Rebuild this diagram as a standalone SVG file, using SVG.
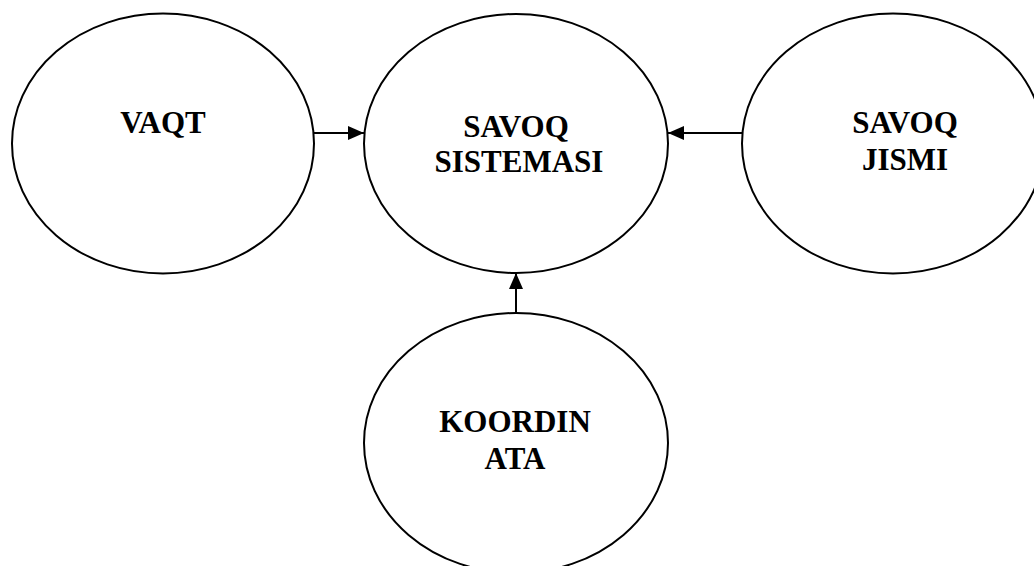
<svg xmlns="http://www.w3.org/2000/svg" width="1034" height="566" viewBox="0 0 1034 566">
<style>
.node{fill:#fff;stroke:#000;stroke-width:2}
.lbl{font-family:"Liberation Serif","Times New Roman",serif;font-weight:bold;font-size:31px;fill:#000;text-anchor:middle}
.conn{stroke:#000;stroke-width:2;fill:none}
</style>
<defs>
<marker id="ah" viewBox="0 0 16 14" refX="16" refY="7" markerWidth="16" markerHeight="14" markerUnits="userSpaceOnUse" orient="auto">
<path d="M0,0 L16,7 L0,14 Z" fill="#000"/>
</marker>
</defs>
<rect width="1034" height="566" fill="#fff"/>
<g id="vaqt">
<ellipse class="node" cx="163" cy="143.5" rx="151" ry="130"/>
<text class="lbl" x="163" y="133">VAQT</text>
</g>
<g id="savoq-sistemasi">
<ellipse class="node" cx="516" cy="143.5" rx="152" ry="129.5"/>
<text class="lbl" x="516" y="137">SAVOQ</text>
<text class="lbl" x="519" y="172">SISTEMASI</text>
</g>
<g id="savoq-jismi">
<ellipse class="node" cx="893" cy="143.5" rx="151" ry="130"/>
<text class="lbl" x="905" y="133">SAVOQ</text>
<text class="lbl" x="905" y="170">JISMI</text>
</g>
<g id="koordinata">
<ellipse class="node" cx="516" cy="443" rx="152" ry="130"/>
<text class="lbl" x="515" y="432">KOORDIN</text>
<text class="lbl" x="515" y="469">ATA</text>
</g>
<g id="connectors">
<line class="conn" x1="314" y1="133" x2="364" y2="133" marker-end="url(#ah)"/>
<line class="conn" x1="742" y1="133" x2="668" y2="133" marker-end="url(#ah)"/>
<line class="conn" x1="516" y1="313" x2="516" y2="273" marker-end="url(#ah)"/>
</g>
</svg>
